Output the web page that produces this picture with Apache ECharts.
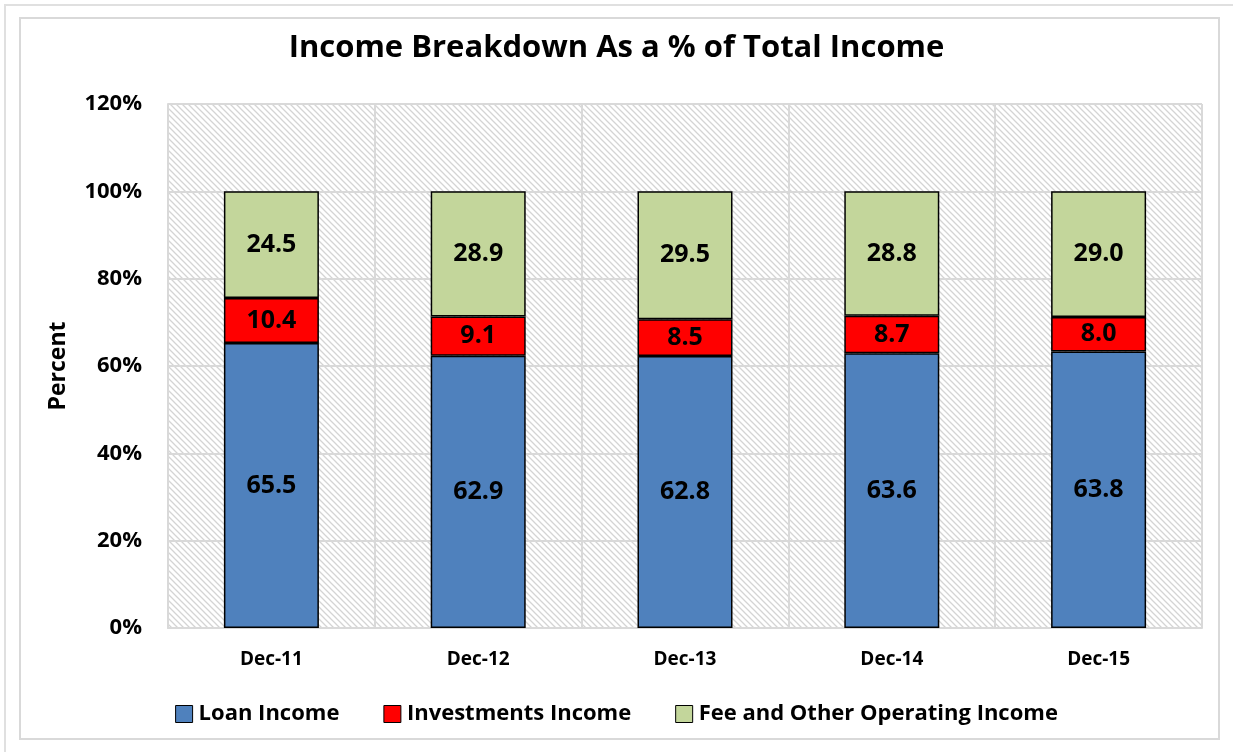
<!DOCTYPE html>
<html>
<head>
<meta charset="utf-8">
<script src="https://cdn.jsdelivr.net/npm/echarts@6/dist/echarts.min.js"></script>
<style>
  html, body { margin: 0; padding: 0; background: #fff; }
  #incomeChart { width: 1233px; height: 752px; }
</style>
</head>
<body>
<div id="incomeChart"></div>
<script>
// 数据
const categories = ['Dec-11', 'Dec-12', 'Dec-13', 'Dec-14', 'Dec-15']
const loanIncome = [65.5, 62.9, 62.8, 63.6, 63.8]
const investIncome = [10.4, 9.1, 8.5, 8.7, 8.0]
const feeIncome = [24.5, 28.9, 29.5, 28.8, 29.0]
const yTicks = [0, 20, 40, 60, 80, 100, 120]

// the bars are drawn as shares of the total, the labels show the given figures
const totals = categories.map((c, i) => loanIncome[i] + investIncome[i] + feeIncome[i])
const share = arr => arr.map((v, i) => ({ value: v / totals[i] * 100, raw: v }))

// hatched plot background
function hatch () {
  const c = document.createElement('canvas')
  c.width = 6
  c.height = 6
  const ctx = c.getContext('2d')
  ctx.fillStyle = '#fff'
  ctx.fillRect(0, 0, 6, 6)
  ctx.strokeStyle = '#d4d4d4'
  ctx.lineWidth = 1.3
  ctx.beginPath()
  ctx.moveTo(0, 0); ctx.lineTo(6, 6)
  ctx.moveTo(-3, 3); ctx.lineTo(3, 9)
  ctx.moveTo(3, -3); ctx.lineTo(9, 3)
  ctx.stroke()
  return c
}

const font = '"Open Sans", Lato, sans-serif'
const chart = echarts.init(document.getElementById('incomeChart'))

const barStyle = color => ({
  color: color,
  borderColor: '#000',
  borderWidth: 1.5
})
const label = {
  show: true,
  position: 'inside',
  color: '#000',
  fontFamily: font,
  fontWeight: 'bold',
  fontSize: 25,
  formatter: p => p.data.raw.toFixed(1)
}

const option = {
  backgroundColor: '#fff',
  animation: false,
  title: {
    text: 'Income Breakdown As a % of Total Income',
    left: 'center',
    top: 28,
    textStyle: { fontFamily: font, fontWeight: 'bold', fontSize: 31, color: '#000' }
  },
  graphic: [
    { type: 'rect', shape: { x: 5, y: 5, width: 1240, height: 760 }, style: { fill: 'none', stroke: '#e0e0e0', lineWidth: 2 }, silent: true },
    { type: 'rect', shape: { x: 20, y: 18, width: 1199, height: 721 }, style: { fill: 'none', stroke: '#d9d9d9', lineWidth: 2 }, silent: true }
  ],
  legend: {
    data: ['Loan Income', 'Investments Income', 'Fee and Other Operating Income'],
    bottom: 22,
    left: 'center',
    itemWidth: 17,
    itemHeight: 17,
    itemGap: 44,
    icon: 'rect',
    itemStyle: { borderColor: '#000', borderWidth: 1 },
    textStyle: { fontFamily: font, fontWeight: 'bold', fontSize: 22, color: '#000', padding: [0, 0, 0, 1] }
  },
  grid: {
    left: 168,
    right: 31,
    top: 104,
    bottom: 124,
    show: true,
    backgroundColor: { image: hatch(), repeat: 'repeat' },
    borderWidth: 0
  },
  xAxis: {
    type: 'category',
    data: categories,
    axisTick: { show: false },
    axisLine: { lineStyle: { color: '#d9d9d9', width: 2 } },
    axisLabel: { color: '#000', fontFamily: font, fontWeight: 'bold', fontSize: 19, margin: 22 },
    splitLine: { show: true, interval: 0, lineStyle: { color: '#d9d9d9', width: 2 } }
  },
  yAxis: {
    type: 'value',
    min: yTicks[0],
    max: yTicks[yTicks.length - 1],
    interval: 20,
    name: 'Percent',
    nameLocation: 'middle',
    nameGap: 98,
    nameTextStyle: { color: '#000', fontFamily: font, fontWeight: 'bold', fontSize: 23 },
    axisLine: { show: true, lineStyle: { color: '#d9d9d9', width: 2 } },
    axisTick: { show: false },
    axisLabel: { color: '#000', fontFamily: font, fontWeight: 'bold', fontSize: 22, margin: 26, formatter: '{value}%' },
    splitLine: { lineStyle: { color: '#d9d9d9', width: 2 } }
  },
  series: [{
    name: 'Loan Income',
    type: 'bar',
    stack: 'total',
    barWidth: 95,
    data: share(loanIncome),
    itemStyle: barStyle('#4f81bd'),
    label: label
  }, {
    name: 'Investments Income',
    type: 'bar',
    stack: 'total',
    barWidth: 95,
    data: share(investIncome),
    itemStyle: barStyle('#ff0000'),
    label: label
  }, {
    name: 'Fee and Other Operating Income',
    type: 'bar',
    stack: 'total',
    barWidth: 95,
    data: share(feeIncome),
    itemStyle: barStyle('#c3d69b'),
    label: label
  }]
}
chart.setOption(option)
</script>
</body>
</html>
